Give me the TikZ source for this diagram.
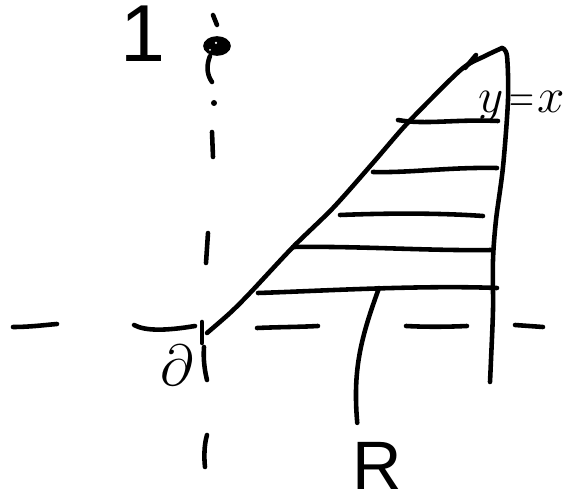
\RequirePackage{fix-cm}
\documentclass[tikz,border=0pt]{standalone}
\usepackage{amsmath,amssymb}
\usepackage{fontspec}
\newfontfamily\handsans{Liberation Sans}
\usepackage{tikz}
\usetikzlibrary{positioning}

\begin{document}
\begin{tikzpicture}[x=0.02cm, y=-0.02cm,
    pen/.style={draw=black, line width=2.6pt, line cap=round, line join=round},
    bigtext/.style={inner sep=0pt, outer sep=0pt}]
  \useasboundingbox (0,0) rectangle (576,503);

  % Vertical axis, dashed by hand
  \draw[pen] (213,15) -- (217,25);
  \filldraw[black, line width=1.5pt] (217,46) ellipse [x radius=0.25cm, y radius=0.17cm];
  \fill[white] (216,43) circle [radius=0.025cm] (210,50) circle [radius=0.02cm];
  \draw[pen] (210,56) .. controls (206,66) and (207,75) .. (212,82);
  \fill[black] (214,103) circle [radius=0.06cm];
  \draw[pen] (212,132) -- (213,157);
  \draw[pen] (208,233) -- (206,263);
  \draw[pen] (202,322) -- (202,343);
  \draw[pen] (204,347) .. controls (203,360) and (205,372) .. (207,380);
  \draw[pen] (207,435) .. controls (204,445) and (204,458) .. (205,467);

  % Horizontal axis
  \draw[pen] (13,327) .. controls (30,327) and (45,325) .. (57,324);
  \draw[pen] (134,325) .. controls (145,331) and (165,331) .. (195,326);
  \draw[pen] (257,328) .. controls (280,327) and (300,327) .. (318,326);
  \draw[pen] (406,326) .. controls (425,327) and (445,327) .. (467,326);
  \draw[pen] (515,325) -- (543,327);

  % Region R: the y = x edge and the right edge
  \draw[pen] plot[smooth] coordinates {(207,333) (230,313) (250,293) (293,247) (333,208)
    (372,164) (403,128) (430,100) (463,68) (485,56) (502,48)};
  \draw[pen] (476,55) -- (465,68);
  \draw[pen] plot[smooth] coordinates {(502,48) (507,56) (508,100) (503,167) (496,220)
    (493,260) (493,310) (491,360) (490,382)};

  % Hatching, top to bottom
  \draw[pen] (398,120) .. controls (425,125) and (455,119) .. (498,121);
  \draw[pen] (373,172) .. controls (410,173) and (450,167) .. (497,168);
  \draw[pen] (340,215) .. controls (390,213) and (440,213) .. (483,216);
  \draw[pen] (293,247) .. controls (360,246) and (430,251) .. (492,250);
  \draw[pen] (258,293) .. controls (320,291) and (420,285) .. (497,288);

  % Labels
  \node[bigtext, anchor=base, font=\handsans\fontsize{46}{48}\selectfont] (one) at (143,62) {1};
  \node[bigtext, anchor=base, font=\fontsize{33}{36}\selectfont] (origin) at (177,386) {$\partial$};
  \node[bigtext, anchor=base west, font=\fontsize{28}{32}\selectfont] (diag) at (479,113)
    {$y\mkern2mu\scalebox{0.7}[1]{$=$}\mkern1mu x$};
  \node[bigtext, anchor=base, font=\handsans\fontsize{39}{42}\selectfont] (R) at (377,490) {R};

  % Pointer from R into the region
  \coordinate (hit) at (379,288);
  \draw[pen] ([xshift=0.1cm, yshift=0.4cm]R.north west) to[out=95, in=-110] (hit);
\end{tikzpicture}
\end{document}
